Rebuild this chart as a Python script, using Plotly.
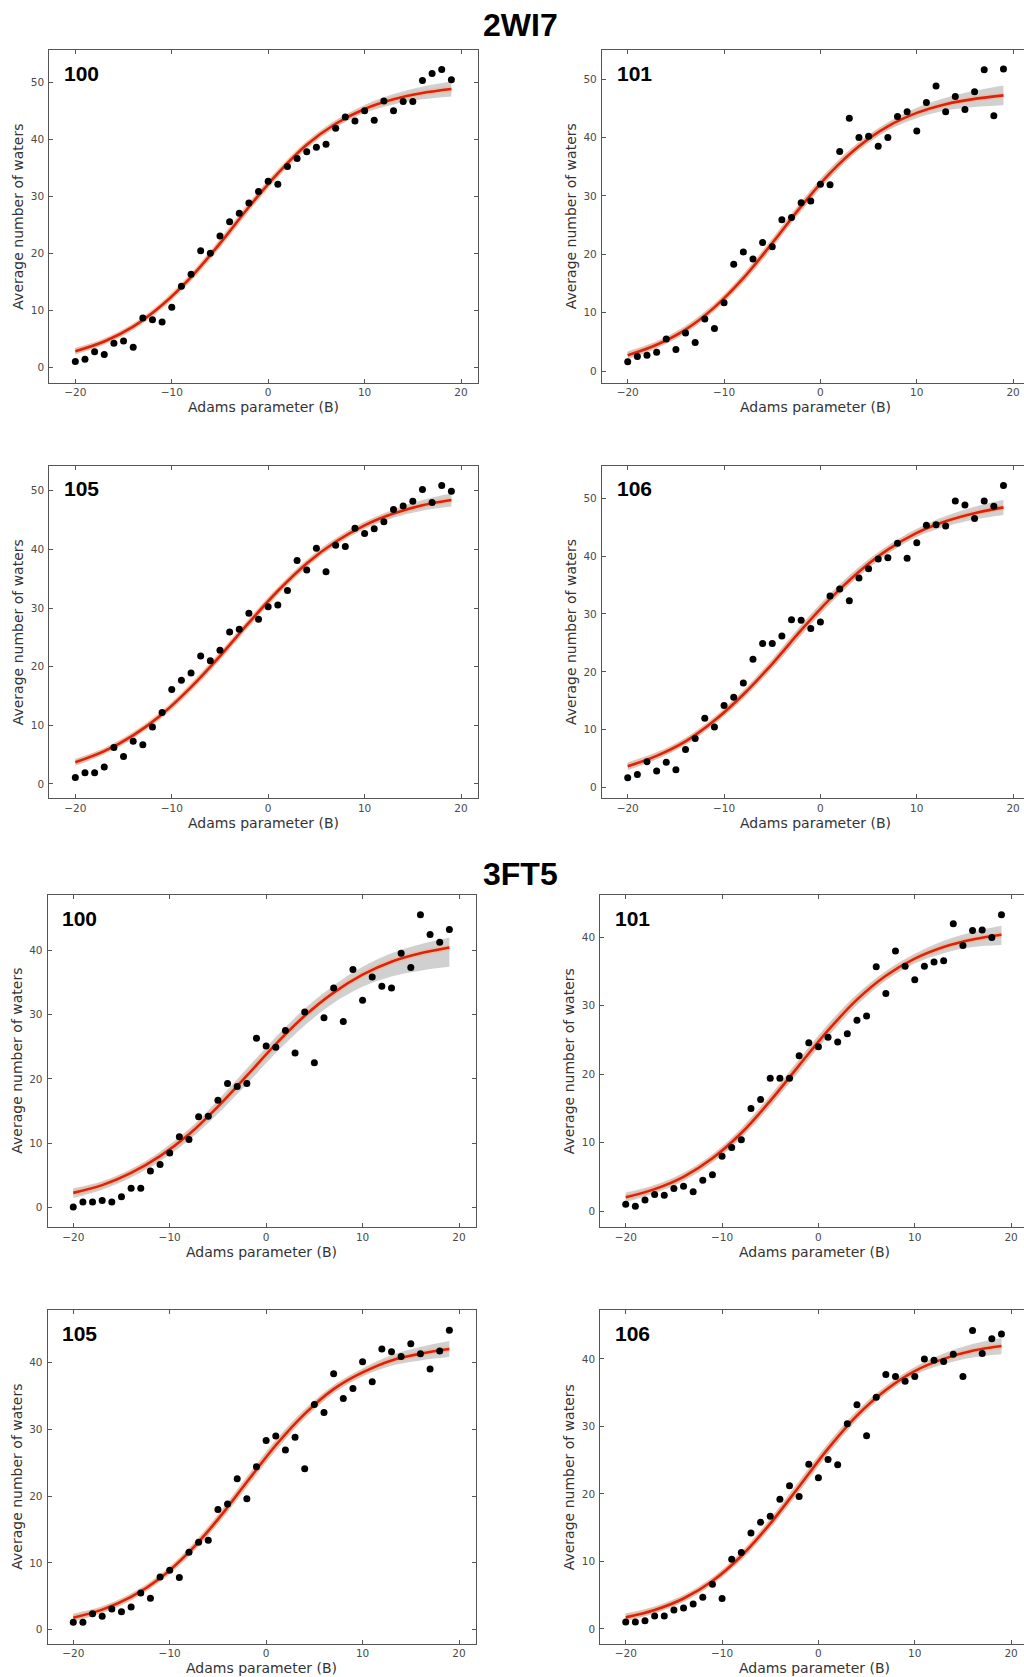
import plotly.graph_objects as go

W, H = 1024, 1677

# ---------------- data ----------------
adams_b = list(range(-20, 20))
fit_b = [-20, -17, -14, -11, -8, -5, -2, 1, 4, 7, 10, 13, 16, 19]

group_titles = ["2WI7", "3FT5"]
panel_labels = ["100", "101", "105", "106", "100", "101", "105", "106"]

waters_2wi7_100 = [1.1, 1.5, 2.8, 2.3, 4.3, 4.7, 3.6, 8.7, 8.4, 8.0,
                   10.6, 14.3, 16.4, 20.5, 20.1, 23.1, 25.6, 27.1, 28.9, 30.9,
                   32.7, 32.2, 35.3, 36.7, 37.9, 38.7, 39.2, 42.0, 44.0, 43.3,
                   45.1, 43.4, 46.8, 45.1, 46.7, 46.7, 50.4, 51.6, 52.3, 50.5]
waters_2wi7_101 = [1.6, 2.5, 2.7, 3.2, 5.5, 3.7, 6.5, 4.9, 8.9, 7.3,
                   11.7, 18.3, 20.4, 19.2, 22.0, 21.3, 25.9, 26.3, 28.8, 29.1,
                   32.0, 31.9, 37.6, 43.3, 40.0, 40.2, 38.5, 40.0, 43.6, 44.4,
                   41.1, 46.0, 48.8, 44.4, 47.0, 44.8, 47.8, 51.6, 43.7, 51.7]
waters_2wi7_105 = [1.1, 1.9, 1.9, 2.9, 6.2, 4.7, 7.3, 6.7, 9.7, 12.2,
                   16.1, 17.7, 18.9, 21.8, 21.0, 22.8, 25.9, 26.4, 29.1, 28.1,
                   30.2, 30.5, 33.0, 38.1, 36.5, 40.2, 36.2, 40.7, 40.5, 43.6,
                   42.7, 43.5, 44.7, 46.8, 47.4, 48.2, 50.2, 48.0, 50.9, 49.9]
waters_2wi7_106 = [1.7, 2.3, 4.5, 2.9, 4.4, 3.1, 6.6, 8.5, 12.0, 10.5,
                   14.2, 15.6, 18.1, 22.2, 24.9, 24.9, 26.2, 29.0, 28.9, 27.5,
                   28.6, 33.1, 34.3, 32.3, 36.2, 37.8, 39.5, 39.7, 42.2, 39.6,
                   42.3, 45.3, 45.4, 45.2, 49.5, 48.8, 46.5, 49.5, 48.6, 52.2]
waters_3ft5_100 = [0.1, 0.9, 0.9, 1.1, 0.9, 1.7, 3.0, 3.0, 5.7, 6.7,
                   8.5, 11.0, 10.6, 14.1, 14.2, 16.7, 19.3, 18.8, 19.3, 26.3,
                   25.1, 24.9, 27.5, 24.0, 30.4, 22.5, 29.5, 34.1, 28.9, 37.0,
                   32.2, 35.8, 34.4, 34.1, 39.5, 37.3, 45.5, 42.4, 41.2, 43.2]
waters_3ft5_101 = [1.0, 0.7, 1.6, 2.4, 2.3, 3.3, 3.6, 2.8, 4.5, 5.3,
                   8.0, 9.3, 10.4, 15.0, 16.3, 19.4, 19.4, 19.4, 22.7, 24.6,
                   24.0, 25.4, 24.7, 25.9, 27.9, 28.5, 35.7, 31.8, 38.0, 35.8,
                   33.8, 35.8, 36.4, 36.6, 42.0, 38.8, 41.0, 41.1, 40.0, 43.3]
waters_3ft5_105 = [1.1, 1.1, 2.4, 2.0, 3.1, 2.7, 3.4, 5.5, 4.7, 7.9,
                   8.9, 7.8, 11.6, 13.1, 13.4, 18.0, 18.8, 22.6, 19.6, 24.4,
                   28.3, 29.0, 26.9, 28.8, 24.1, 33.7, 32.5, 38.3, 34.6, 36.1,
                   40.1, 37.1, 42.0, 41.6, 40.9, 42.8, 41.3, 39.0, 41.7, 44.8]
waters_3ft5_106 = [1.0, 1.0, 1.2, 1.9, 1.9, 2.8, 3.1, 3.7, 4.7, 6.6,
                   4.5, 10.3, 11.3, 14.2, 15.8, 16.7, 19.2, 21.2, 19.6, 24.4,
                   22.4, 25.1, 24.3, 30.4, 33.2, 28.6, 34.3, 37.7, 37.4, 36.7,
                   37.4, 40.0, 39.8, 39.6, 40.7, 37.4, 44.2, 40.8, 43.0, 43.7]

fit_2wi7_100 = [2.9, 4.6, 7.2, 11.0, 15.9, 21.8, 28.2, 34.1, 39.1, 42.8, 45.4, 47.1, 48.2, 48.9]
fit_2wi7_101 = [2.7, 4.5, 7.1, 10.9, 15.9, 21.9, 28.2, 33.9, 38.5, 41.9, 44.2, 45.7, 46.6, 47.2]
fit_2wi7_105 = [3.7, 5.6, 8.3, 11.9, 16.5, 21.8, 27.5, 32.9, 37.6, 41.3, 44.1, 46.1, 47.5, 48.4]
fit_2wi7_106 = [3.7, 5.5, 8.0, 11.6, 16.1, 21.4, 27.2, 32.6, 37.3, 41.1, 44.0, 46.0, 47.4, 48.4]
fit_3ft5_100 = [2.3, 3.5, 5.4, 8.0, 11.4, 15.7, 20.5, 25.4, 29.8, 33.4, 36.2, 38.2, 39.5, 40.4]
fit_3ft5_101 = [2.0, 3.2, 5.0, 7.7, 11.4, 16.1, 21.3, 26.4, 30.9, 34.4, 36.9, 38.6, 39.7, 40.4]
fit_3ft5_105 = [1.8, 3.0, 4.9, 7.7, 11.6, 16.5, 22.1, 27.6, 32.3, 36.0, 38.5, 40.3, 41.3, 42.0]
fit_3ft5_106 = [1.7, 2.8, 4.5, 7.1, 10.8, 15.6, 21.1, 26.7, 31.6, 35.4, 38.2, 40.0, 41.2, 41.9]

# confidence band: distance above / below the fit
band_up_2wi7_100 = [0.6, 0.5, 0.5, 0.5, 0.6, 0.7, 0.7, 0.6, 0.6, 0.6, 0.7, 0.9, 1.1, 1.3]
band_dn_2wi7_100 = [0.6, 0.5, 0.5, 0.5, 0.6, 0.7, 0.7, 0.6, 0.6, 0.6, 0.7, 0.9, 1.1, 1.3]
band_up_2wi7_101 = [0.7, 0.6, 0.6, 0.6, 0.7, 0.8, 0.8, 0.8, 0.7, 0.7, 0.9, 1.1, 1.4, 1.7]
band_dn_2wi7_101 = [0.7, 0.6, 0.6, 0.6, 0.7, 0.8, 0.8, 0.8, 0.7, 0.7, 0.9, 1.1, 1.4, 1.7]
band_up_2wi7_105 = [0.6, 0.5, 0.5, 0.5, 0.6, 0.6, 0.6, 0.6, 0.6, 0.6, 0.6, 0.7, 0.9, 1.1]
band_dn_2wi7_105 = [0.6, 0.5, 0.5, 0.5, 0.6, 0.6, 0.6, 0.6, 0.6, 0.6, 0.6, 0.7, 0.9, 1.1]
band_up_2wi7_106 = [0.7, 0.6, 0.6, 0.6, 0.7, 0.8, 0.9, 0.9, 0.8, 0.7, 0.7, 0.9, 1.1, 1.3]
band_dn_2wi7_106 = [0.7, 0.6, 0.6, 0.6, 0.7, 0.8, 0.9, 0.9, 0.8, 0.7, 0.7, 0.9, 1.1, 1.3]
band_up_3ft5_100 = [0.7, 0.6, 0.6, 0.7, 0.8, 1.0, 1.1, 1.1, 1.1, 1.1, 1.2, 1.3, 1.4, 1.5]
band_dn_3ft5_100 = [0.8, 0.7, 0.7, 0.8, 0.9, 1.1, 1.3, 1.4, 1.5, 1.6, 1.9, 2.3, 2.7, 3.0]
band_up_3ft5_101 = [0.7, 0.6, 0.6, 0.6, 0.7, 0.8, 0.9, 0.9, 0.8, 0.7, 0.7, 0.9, 1.1, 1.3]
band_dn_3ft5_101 = [0.7, 0.6, 0.6, 0.6, 0.7, 0.8, 0.9, 0.9, 0.8, 0.7, 0.7, 0.9, 1.1, 1.5]
band_up_3ft5_105 = [0.6, 0.5, 0.5, 0.5, 0.6, 0.7, 0.8, 0.8, 0.7, 0.6, 0.6, 0.8, 1.0, 1.2]
band_dn_3ft5_105 = [0.6, 0.5, 0.5, 0.5, 0.6, 0.7, 0.8, 0.8, 0.7, 0.6, 0.6, 0.8, 1.0, 1.2]
band_up_3ft5_106 = [0.6, 0.5, 0.5, 0.5, 0.6, 0.7, 0.8, 0.8, 0.7, 0.6, 0.6, 0.8, 1.0, 1.2]
band_dn_3ft5_106 = [0.6, 0.5, 0.5, 0.5, 0.6, 0.7, 0.8, 0.8, 0.7, 0.6, 0.6, 0.8, 1.0, 1.2]

x_ticks = [-20, -10, 0, 10, 20]
x_axis_title = "Adams parameter (B)"
y_axis_title = "Average number of waters"

# ---------------- layout geometry (pixels) ----------------
PX_PER_B = 9.634
FULL_X_END = 21.73
panels = [
    # data, fit, band up, band down, box (left, top, right, bottom), x range, y range
    (waters_2wi7_100, fit_2wi7_100, band_up_2wi7_100, band_dn_2wi7_100,
     (49.3, 50.0, 477.7, 382.7), (-22.7, 21.73), (-2.63, 55.74)),
    (waters_2wi7_101, fit_2wi7_101, band_up_2wi7_101, band_dn_2wi7_101,
     (602.0, 50.0, 1024.0, 382.7), (-22.67, 21.13), (-2.0, 54.97)),
    (waters_2wi7_105, fit_2wi7_105, band_up_2wi7_105, band_dn_2wi7_105,
     (49.3, 465.7, 477.7, 798.3), (-22.7, 21.73), (-2.44, 54.26)),
    (waters_2wi7_106, fit_2wi7_106, band_up_2wi7_106, band_dn_2wi7_106,
     (602.0, 465.7, 1024.0, 798.3), (-22.67, 21.13), (-1.83, 55.6)),
    (waters_3ft5_100, fit_3ft5_100, band_up_3ft5_100, band_dn_3ft5_100,
     (47.7, 895.0, 475.7, 1227.0), (-22.65, 21.73), (-3.0, 48.55)),
    (waters_3ft5_101, fit_3ft5_101, band_up_3ft5_101, band_dn_3ft5_101,
     (600.3, 895.0, 1024.0, 1227.0), (-22.64, 21.34), (-2.34, 46.2)),
    (waters_3ft5_105, fit_3ft5_105, band_up_3ft5_105, band_dn_3ft5_105,
     (47.7, 1310.3, 475.7, 1643.7), (-22.65, 21.73), (-2.1, 47.8)),
    (waters_3ft5_106, fit_3ft5_106, band_up_3ft5_106, band_dn_3ft5_106,
     (600.3, 1310.3, 1024.0, 1643.7), (-22.64, 21.34), (-2.2, 47.2)),
]

def px(x):
    return x / W

def py(y):
    return 1 - y / H

AXIS_COL = "#555555"
TXT_COL = "#333333"
TICK_FONT = dict(family="DejaVu Sans", size=10.5, color="#4a4a4a")
TITLE_FONT = dict(family="DejaVu Sans", size=14, color=TXT_COL)

fig = go.Figure()
annotations = []
layout_axes = {}

for i, (waters, fit, bup, bdn, box, xr, yr) in enumerate(panels, start=1):
    xa = "x" if i == 1 else f"x{i}"
    ya = "y" if i == 1 else f"y{i}"
    lo = [f - d for f, d in zip(fit, bdn)]
    hi = [f + u for f, u in zip(fit, bup)]

    fig.add_trace(go.Scatter(x=fit_b, y=lo, mode="lines", xaxis=xa, yaxis=ya,
                             line=dict(width=0, shape="spline", color="rgba(0,0,0,0)"),
                             hoverinfo="skip", showlegend=False))
    fig.add_trace(go.Scatter(x=fit_b, y=hi, mode="lines", xaxis=xa, yaxis=ya,
                             line=dict(width=0, shape="spline", color="rgba(0,0,0,0)"),
                             fill="tonexty", fillcolor="rgba(200,200,200,0.85)",
                             hoverinfo="skip", showlegend=False))
    fig.add_trace(go.Scatter(x=fit_b, y=fit, mode="lines", xaxis=xa, yaxis=ya,
                             line=dict(width=6, shape="spline", color="rgba(255,175,110,0.45)"),
                             hoverinfo="skip", showlegend=False))
    fig.add_trace(go.Scatter(x=fit_b, y=fit, mode="lines", xaxis=xa, yaxis=ya,
                             line=dict(width=2.6, shape="spline", color="#e0200f"),
                             showlegend=False))
    fig.add_trace(go.Scatter(x=adams_b, y=waters, mode="markers", xaxis=xa, yaxis=ya,
                             marker=dict(size=7, color="black", line=dict(width=0)),
                             showlegend=False))

    left, top, right, bottom = box
    cropped = right >= W  # right-hand frames run off the page edge
    common = dict(showgrid=False, zeroline=False, showline=True, linecolor=AXIS_COL,
                  linewidth=1.2, ticks="inside", ticklen=4,
                  tickwidth=1, tickcolor=AXIS_COL, tickfont=TICK_FONT,
                  ticklabeloverflow="allow")
    layout_axes["xaxis" if i == 1 else f"xaxis{i}"] = dict(
        domain=[px(left), px(right)], range=list(xr), anchor=ya,
        tickvals=x_ticks, mirror="ticks", **common)
    layout_axes["yaxis" if i == 1 else f"yaxis{i}"] = dict(
        domain=[py(bottom), py(top)], range=list(yr), anchor=xa,
        dtick=10, tick0=0, ticklabelstandoff=2,
        mirror=(False if cropped else "ticks"), **common)

    # full (uncropped) frame width, used to centre the x title
    full_right = left + (FULL_X_END - xr[0]) * PX_PER_B
    annotations.append(dict(text=x_axis_title, x=px((left + full_right) / 2), y=py(bottom + 24.5),
                            xref="paper", yref="paper", showarrow=False,
                            xanchor="center", yanchor="middle", font=TITLE_FONT))
    annotations.append(dict(text=y_axis_title, x=px(left - 31), y=py((top + bottom) / 2),
                            xref="paper", yref="paper", showarrow=False, textangle=-90,
                            xanchor="center", yanchor="middle", font=TITLE_FONT))
    annotations.append(dict(text="<b>" + panel_labels[i - 1] + "</b>",
                            x=px(left + 12.5), y=py(top + 23),
                            xref="paper", yref="paper", showarrow=False,
                            xanchor="left", yanchor="middle",
                            font=dict(family="Liberation Sans", size=21, color="black")))

annotations.append(dict(text="<b>" + group_titles[0] + "</b>", x=px(520), y=py(25),
                        xref="paper", yref="paper", showarrow=False,
                        xanchor="center", yanchor="middle",
                        font=dict(family="Liberation Sans", size=32, color="black")))
annotations.append(dict(text="<b>" + group_titles[1] + "</b>", x=px(520), y=py(874),
                        xref="paper", yref="paper", showarrow=False,
                        xanchor="center", yanchor="middle",
                        font=dict(family="Liberation Sans", size=32, color="black")))

fig.update_layout(
    width=W, height=H, margin=dict(l=0, r=0, t=0, b=0),
    paper_bgcolor="white", plot_bgcolor="white",
    showlegend=False, annotations=annotations, **layout_axes)

fig.write_html(
    "out.html",
    config={"displayModeBar": False},
    post_script="document.body.style.margin='0';document.body.style.padding='0';"
                "document.documentElement.style.overflow='hidden';"
                "document.body.style.overflow='hidden';",
)
